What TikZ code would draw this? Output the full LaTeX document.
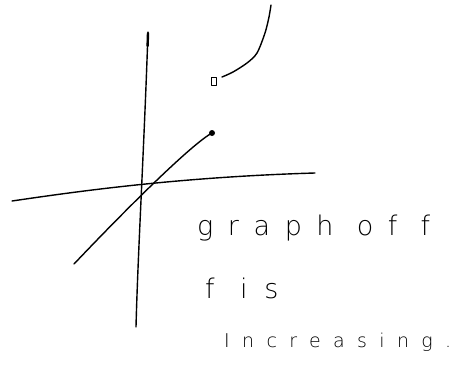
\documentclass[tikz,border=0pt]{standalone}
\usepackage{fontspec}
\newfontfamily\handA{DejaVu Sans ExtraLight}[LetterSpace=54]
\newfontfamily\handB{DejaVu Sans ExtraLight}[LetterSpace=62]
\newfontfamily\handC{DejaVu Sans ExtraLight}[LetterSpace=65]
\begin{document}
\begin{tikzpicture}[x=1pt,y=-1pt, line cap=round, line join=round,
  pen/.style={line width=1.4pt},
  hand/.style={inner sep=0pt, anchor=base west}]
\useasboundingbox (0,0) rectangle (461,375);
% axes
\coordinate (vtop) at (148,32);
\coordinate (vbot) at (136,327);
\coordinate (hleft) at (12,201);
\coordinate (hright) at (315,173);
\draw[pen] (vtop) .. controls (144,150) and (138,250) .. (vbot);
\draw[line width=2.4pt] (148,33) -- (147.6,46);
\draw[pen] (hleft) .. controls (80,191) and (180,177) .. (hright);
% first piece, closed end
\node[circle, fill, inner sep=0pt, minimum size=6pt] (dot) at (212,133) {};
\coordinate (lstart) at (74,264);
\draw[pen] (lstart) .. controls (130,205) and (192,144) .. (dot.center);
% second piece, open end
\node[draw, line width=1pt, inner sep=0pt, minimum width=5pt, minimum height=8pt] (box) at (214,81) {};
\draw[pen] plot[smooth] coordinates {(222,77) (233,72) (247,63) (257,53) (265,33) (269,17) (271,5)};
% text
\node[hand, font=\handA\fontsize{27}{27}\selectfont] (t1) at (197,235) {graph of f};
\node[hand, font=\handB\fontsize{27}{27}\selectfont] (t2) at (205,298) {f is};
\node[hand, font=\handC\fontsize{19}{19}\selectfont] (t3) at (224,347) {Increasing.};
\end{tikzpicture}
\end{document}
